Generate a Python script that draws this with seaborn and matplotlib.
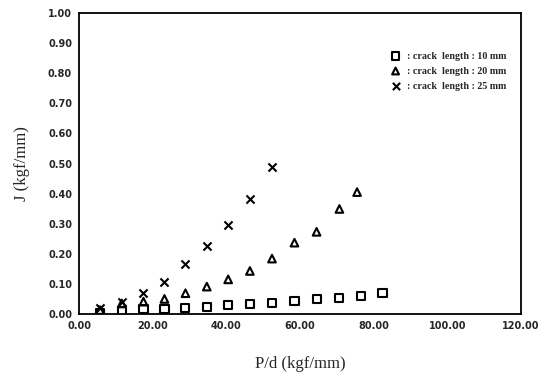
import matplotlib
matplotlib.use("Agg")
import matplotlib.pyplot as plt
import seaborn as sns
import pandas as pd

sns.set_theme(style="white")
plt.rcParams['font.family'] = ['DejaVu Sans']

x10 = [5.7, 11.6, 17.5, 23.2, 28.9, 34.7, 40.5, 46.4, 52.4, 58.5, 64.5, 70.7, 76.6, 82.4]
j10 = [0.004, 0.011, 0.016, 0.016, 0.021, 0.022, 0.030, 0.032, 0.038, 0.043, 0.050, 0.054, 0.061, 0.069]
x20 = [5.7, 11.6, 17.5, 23.2, 28.9, 34.7, 40.5, 46.4, 52.4, 58.5, 64.5, 70.7, 75.5]
j20 = [0.013, 0.035, 0.041, 0.050, 0.069, 0.091, 0.115, 0.143, 0.184, 0.237, 0.273, 0.349, 0.405]
x25 = [5.7, 11.6, 17.5, 23.2, 28.9, 34.7, 40.5, 46.4, 52.4]
j25 = [0.020, 0.041, 0.069, 0.105, 0.166, 0.225, 0.296, 0.381, 0.487]
labels = [": crack  length : 10 mm", ": crack  length : 20 mm", ": crack  length : 25 mm"]

fig = plt.figure(figsize=(5.44, 3.78), dpi=100)
ax = fig.add_axes([79/544, 1-314/378, (521-79)/544, (314-13)/378])

series = [(x10, j10, 's', labels[0]), (x20, j20, '^', labels[1]), (x25, j25, 'x', labels[2])]
for xs, ys, m, lab in series:
    df = pd.DataFrame({"x": xs, "y": ys})
    if m == 'x':
        sns.scatterplot(data=df, x="x", y="y", marker=m, color="black", s=34,
                        linewidth=1.5, ax=ax, label=lab)
    else:
        sns.scatterplot(data=df, x="x", y="y", marker=m, facecolor="none",
                        edgecolor="black", s=34 if m == 's' else 30,
                        linewidth=1.5, ax=ax, label=lab)

ax.set_xlim(0, 120)
ax.set_ylim(0, 1.0)
ax.set_xticks([0, 20, 40, 60, 80, 100, 120])
ax.set_xticklabels([f"{v:.2f}" for v in [0, 20, 40, 60, 80, 100, 120]], fontsize=7, fontweight='bold')
yt = [i / 10 for i in range(11)]
ax.set_yticks(yt)
ax.set_yticklabels([f"{v:.2f}" for v in yt], fontsize=7, fontweight='bold')
ax.tick_params(axis='both', direction='inout', length=4, width=1, color='black', pad=3)
for sp in ax.spines.values():
    sp.set_color('black')
    sp.set_linewidth(1.3)

ax.set_xlabel("P/d (kgf/mm)", fontsize=12, family='Liberation Serif', labelpad=18)
ax.set_ylabel("J (kgf/mm)", fontsize=12, family='Liberation Serif', labelpad=13)

leg = ax.legend(loc='upper right', bbox_to_anchor=(0.975, 0.885), frameon=False,
                prop={'size': 7.2, 'weight': 'bold', 'family': 'Liberation Serif'},
                handletextpad=0.1, markerscale=0.9, labelspacing=0.6, borderaxespad=0)

fig.savefig("out.png", dpi=100)
